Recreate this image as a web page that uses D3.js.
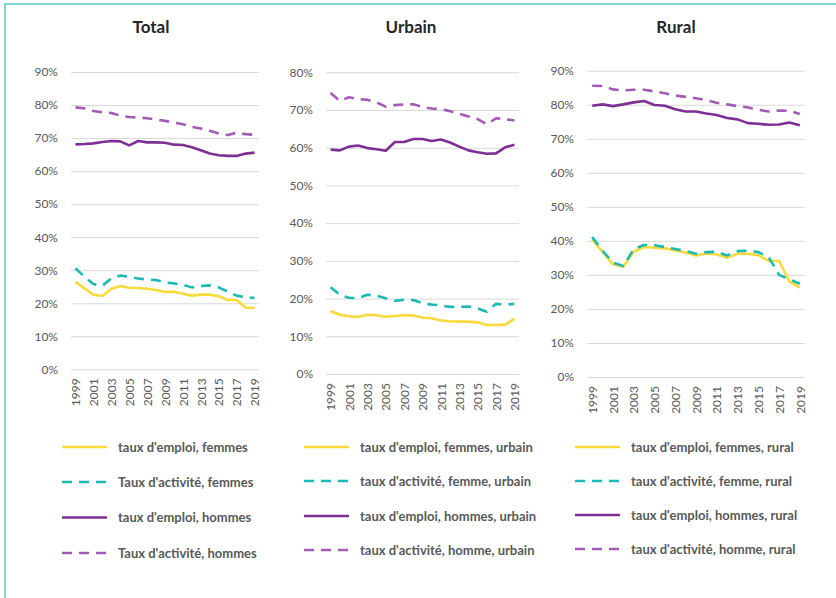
<!DOCTYPE html>
<html>
<head>
<meta charset="utf-8">
<script src="https://cdn.jsdelivr.net/npm/d3@7"></script>
<style>
  body { margin: 0; background: #fff; }
  svg { display: block; font-family: Lato, "Open Sans", sans-serif; }
</style>
</head>
<body>
<svg width="836" height="598"></svg>
<script>
// categories
const years = [1999, 2000, 2001, 2002, 2003, 2004, 2005, 2006, 2007, 2008, 2009,
               2010, 2011, 2012, 2013, 2014, 2015, 2016, 2017, 2018, 2019];
const yearLabels = [1999, 2001, 2003, 2005, 2007, 2009, 2011, 2013, 2015, 2017, 2019];

// Total
const totalEmploiFemmes   = [26.5, 24.5, 22.6, 22.2, 24.3, 25.2, 24.7, 24.6, 24.4, 24.0, 23.4, 23.5, 22.9, 22.3, 22.6, 22.6, 22.1, 21.0, 21.0, 18.7, 18.6];
const totalActiviteFemmes = [30.6, 28.0, 25.8, 25.3, 27.5, 28.4, 28.0, 27.5, 27.2, 27.0, 26.3, 26.0, 25.6, 24.8, 25.2, 25.4, 24.8, 23.5, 22.3, 21.8, 21.6];
const totalEmploiHommes   = [68.1, 68.2, 68.4, 68.8, 69.1, 69.0, 67.8, 69.1, 68.7, 68.7, 68.6, 68.0, 67.9, 67.2, 66.3, 65.3, 64.8, 64.6, 64.6, 65.3, 65.6];
const totalActiviteHommes = [79.3, 79.0, 78.2, 77.8, 77.6, 76.8, 76.4, 76.2, 76.0, 75.6, 75.2, 74.7, 74.2, 73.4, 72.9, 72.2, 71.4, 70.9, 71.6, 71.2, 71.0];

// Urbain
const urbainEmploiFemmes   = [16.7, 15.7, 15.3, 15.1, 15.7, 15.6, 15.2, 15.4, 15.6, 15.5, 14.9, 14.8, 14.2, 14.0, 13.9, 13.9, 13.7, 13.0, 13.0, 13.1, 14.6];
const urbainActiviteFemmes = [23.0, 21.0, 20.2, 20.1, 21.0, 20.8, 20.1, 19.4, 19.7, 19.6, 18.8, 18.4, 18.2, 17.8, 17.8, 17.9, 17.4, 16.5, 18.6, 18.4, 18.6];
const urbainEmploiHommes   = [59.5, 59.3, 60.3, 60.6, 59.9, 59.6, 59.2, 61.5, 61.5, 62.3, 62.3, 61.8, 62.2, 61.4, 60.3, 59.3, 58.8, 58.4, 58.5, 60.1, 60.8];
const urbainActiviteHommes = [74.5, 72.4, 73.4, 72.9, 72.7, 72.0, 70.9, 71.3, 71.5, 71.5, 70.8, 70.4, 70.2, 69.7, 69.0, 68.3, 67.6, 66.2, 67.8, 67.6, 67.2];

// Rural
const ruralEmploiFemmes   = [40.3, 36.8, 33.1, 32.4, 36.8, 38.2, 38.0, 37.8, 37.2, 36.6, 35.7, 36.3, 36.0, 35.0, 36.2, 36.2, 35.8, 34.1, 34.1, 28.0, 26.3];
const ruralActiviteFemmes = [41.1, 37.1, 33.6, 32.6, 37.6, 38.8, 38.7, 38.2, 37.6, 37.0, 36.2, 36.7, 36.8, 35.7, 37.0, 37.1, 36.7, 35.2, 30.0, 28.7, 27.4];
const ruralEmploiHommes   = [79.7, 80.1, 79.6, 80.1, 80.7, 81.1, 79.9, 79.7, 78.7, 78.0, 78.0, 77.4, 77.0, 76.1, 75.7, 74.6, 74.4, 74.1, 74.2, 74.8, 74.0];
const ruralActiviteHommes = [85.6, 85.5, 84.5, 84.2, 84.4, 84.4, 83.9, 83.4, 82.7, 82.3, 81.9, 81.3, 80.6, 80.1, 79.6, 79.2, 78.5, 78.0, 78.3, 78.2, 77.3];

// tick labels
const yTicks90 = [0, 10, 20, 30, 40, 50, 60, 70, 80, 90];
const yTicks80 = [0, 10, 20, 30, 40, 50, 60, 70, 80];

// legend labels
const legendTotal  = ["taux d'emploi, femmes", "Taux d'activité, femmes", "taux d'emploi, hommes", "Taux d'activité, hommes"];
const legendUrbain = ["taux d'emploi, femmes, urbain", "taux d'activité, femme, urbain", "taux d'emploi, hommes, urbain", "taux d'activité, homme, urbain"];
const legendRural  = ["taux d'emploi, femmes, rural", "taux d'activité, femme, rural", "taux d'emploi, hommes, rural", "taux d'activité, homme, rural"];

const seriesColors = ["#F8DA3A", "#1DBAB3", "#7D2F94", "#A35CB6"];
const seriesDash = [null, "10,7", null, "10,7"];

const panels = [
  { title: "Total", titleX: 151, x0: 71, x1: 259, yTop: 72, yBottom: 369.3, ticks: yTicks90,
    series: [totalEmploiFemmes, totalActiviteFemmes, totalEmploiHommes, totalActiviteHommes],
    legend: legendTotal, legendX: 62, legendY: [447, 482, 517.5, 553] },
  { title: "Urbain", titleX: 411, x0: 326, x1: 519, yTop: 72.3, yBottom: 374, ticks: yTicks80,
    series: [urbainEmploiFemmes, urbainActiviteFemmes, urbainEmploiHommes, urbainActiviteHommes],
    legend: legendUrbain, legendX: 304, legendY: [447, 481, 516, 550] },
  { title: "Rural", titleX: 676, x0: 587, x1: 805, yTop: 70.7, yBottom: 377, ticks: yTicks90,
    series: [ruralEmploiFemmes, ruralActiviteFemmes, ruralEmploiHommes, ruralActiviteHommes],
    legend: legendRural, legendX: 575, legendY: [447, 481, 515, 549] }
];

var svg = d3.select("svg");

// frame
svg.append("rect")
  .attr("x", 5).attr("y", 4)
  .attr("width", 900).attr("height", 700)
  .attr("fill", "none")
  .attr("stroke", "#5DC6C8")
  .attr("stroke-width", 1.5);

panels.forEach(p => {
  var g = svg.append("g");

  var x = d3.scalePoint()
    .domain(years)
    .range([p.x0, p.x1])
    .padding(0.5);

  var y = d3.scaleLinear()
    .domain([0, d3.max(p.ticks)])
    .range([p.yBottom, p.yTop]);

  // title
  g.append("text")
    .attr("x", p.titleX)
    .attr("y", 33)
    .attr("text-anchor", "middle")
    .attr("font-size", 17)
    .attr("font-weight", "bold")
    .attr("fill", "#262626")
    .text(p.title);

  // gridlines + y labels
  var yAxis = d3.axisLeft(y)
    .tickValues(p.ticks)
    .tickFormat(d => d + "%")
    .tickSize(-(p.x1 - p.x0))
    .tickPadding(13);

  var ya = g.append("g")
    .attr("transform", `translate(${p.x0},0)`)
    .call(yAxis);
  ya.select(".domain").remove();
  ya.selectAll("line").attr("stroke", "#D9D9D9").attr("stroke-width", 1);
  ya.selectAll("text").attr("fill", "#595959").attr("font-size", 12).attr("font-family", "Lato");

  // x labels
  var xAxis = d3.axisBottom(x)
    .tickValues(yearLabels)
    .tickSize(0);

  var xa = g.append("g")
    .attr("transform", `translate(0,${p.yBottom})`)
    .call(xAxis);
  xa.select(".domain").remove();
  xa.selectAll("text")
    .attr("transform", "rotate(-90)")
    .attr("text-anchor", "end")
    .attr("x", -9)
    .attr("y", 0)
    .attr("dy", "0.35em")
    .attr("fill", "#595959")
    .attr("font-size", 12)
    .attr("font-family", "Lato");

  var line = d3.line()
    .x((d, i) => x(years[i]))
    .y(d => y(d));

  p.series.forEach((s, k) => {
    g.append("path")
      .datum(s)
      .attr("d", line)
      .attr("fill", "none")
      .attr("stroke", seriesColors[k])
      .attr("stroke-width", 2.6)
      .attr("stroke-dasharray", seriesDash[k])
      .attr("stroke-linejoin", "round");
  });

  // legend
  p.legend.forEach((lab, k) => {
    var ly = p.legendY[k];
    g.append("line")
      .attr("x1", p.legendX).attr("x2", p.legendX + 45)
      .attr("y1", ly).attr("y2", ly)
      .attr("stroke", seriesColors[k])
      .attr("stroke-width", 2.6)
      .attr("stroke-dasharray", seriesDash[k]);
    g.append("text")
      .attr("x", p.legendX + 56)
      .attr("y", ly)
      .attr("dy", "0.35em")
      .attr("font-size", 13)
      .attr("font-weight", "bold")
      .attr("fill", "#595959")
      .text(lab);
  });
});
</script>
</body>
</html>
